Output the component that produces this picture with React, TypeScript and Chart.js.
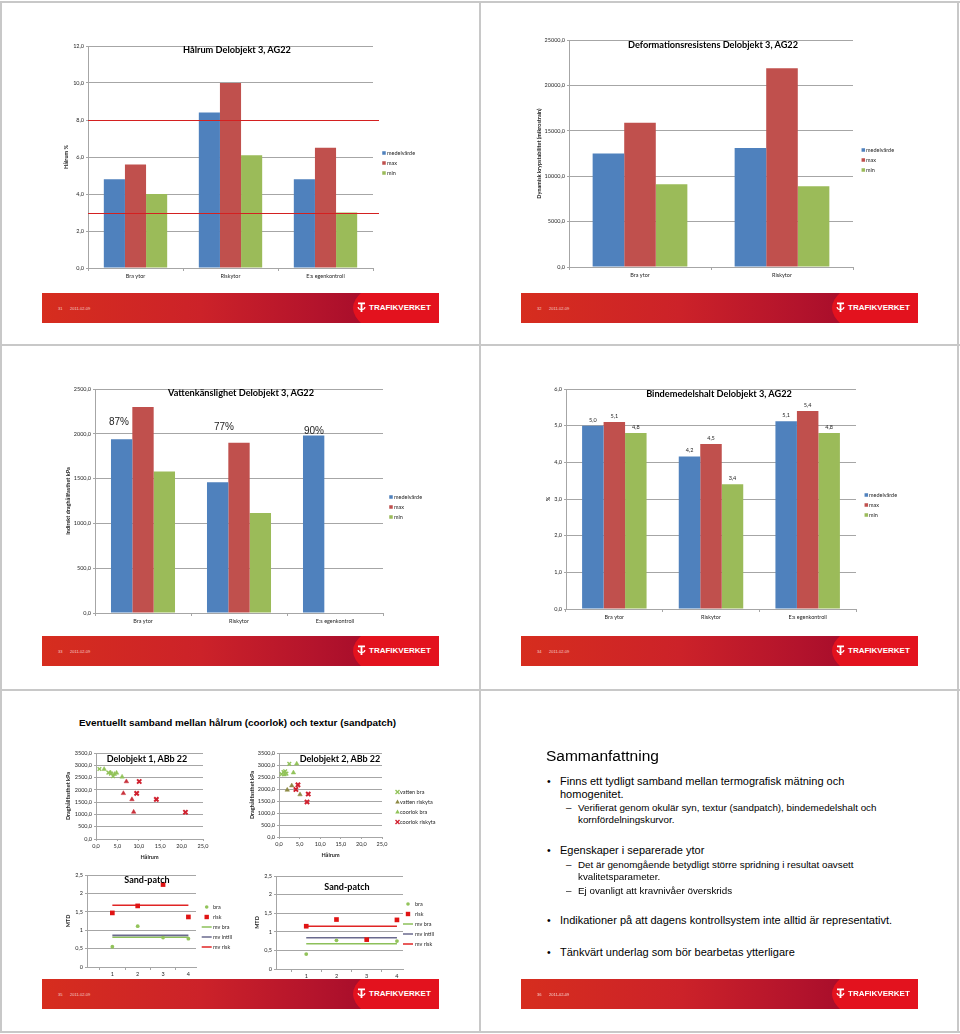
import React, { useEffect, useRef } from 'react';
import { Chart, registerables } from 'chart.js';

Chart.register(...registerables);

const FONT = 'Lato, "Liberation Sans", sans-serif';
const ARIAL = '"Liberation Sans", Arial, sans-serif';
Chart.defaults.font.family = FONT;
Chart.defaults.color = '#262626';

// ---------------- DATA ----------------
const categories3 = ['Bra ytor', 'Riskytor', 'E:s egenkontroll'];
const categories2 = ['Bra ytor', 'Riskytor'];
const seriesLabels = ['medelvärde', 'max', 'min'];

// Hålrum
const halrumMedel = [4.8, 8.4, 4.8];
const halrumMax = [5.6, 10.0, 6.5];
const halrumMin = [4.0, 6.1, 3.0];
const halrumLimits = [8.0, 3.0];

// Deformationsresistens
const deformMedel = [12500, 13100];
const deformMax = [15900, 21900];
const deformMin = [9100, 8900];

// Vattenkänslighet
const vattenMedel = [1940, 1460, 1980];
const vattenMax = [2300, 1900, null];
const vattenMin = [1580, 1115, null];
const vattenPct = ['87%', '77%', '90%'];

// Bindemedelshalt
const bindMedel = [5.0, 4.16, 5.12];
const bindMax = [5.1, 4.5, 5.4];
const bindMin = [4.8, 3.4, 4.8];

// Delobjekt 1 scatter
const d1VattenBra = [{ x: 0.8, y: 2850 }, { x: 2.9, y: 2700 }, { x: 3.5, y: 2660 }, { x: 4.0, y: 2560 }];
const d1VattenRisk = [{ x: 7.1, y: 2340 }, { x: 6.4, y: 1860 }, { x: 8.4, y: 1610 }, { x: 8.8, y: 1100 }];
const d1CoorlokBra = [{ x: 1.9, y: 2840 }, { x: 3.4, y: 2700 }, { x: 4.3, y: 2640 }, { x: 4.8, y: 2690 }, { x: 6.1, y: 2530 }];
const d1CoorlokRisk = [{ x: 10.1, y: 2340 }, { x: 9.5, y: 1860 }, { x: 14.1, y: 1610 }, { x: 20.9, y: 1090 }];

// Delobjekt 2 scatter
const d2VattenBra = [{ x: 2.5, y: 3050 }, { x: 0.6, y: 2620 }, { x: 1.1, y: 2700 }, { x: 1.5, y: 2740 }, { x: 1.8, y: 2640 }];
const d2VattenRisk = [{ x: 2.0, y: 1960 }, { x: 3.1, y: 2140 }, { x: 5.1, y: 1770 }];
const d2CoorlokBra = [{ x: 4.3, y: 3050 }, { x: 3.5, y: 2680 }, { x: 1.3, y: 2600 }];
const d2CoorlokRisk = [{ x: 4.6, y: 2170 }, { x: 4.1, y: 1980 }, { x: 7.1, y: 1790 }, { x: 6.8, y: 1460 }];
const scatterLabels = ['vatten bra', 'vatten riskyta', 'coorlok bra', 'coorlok riskyta'];

// Sand-patch
const spPositions = [1, 2, 3, 4];
const sp1Bra = [0.55, 1.11, 0.80, 0.77];
const sp1Risk = [1.47, 1.66, 2.24, 1.36];
const sp1Means = [0.81, 0.86, 1.68]; // mv bra, mv intill, mv risk
const sp2Bra = [0.40, 0.77, 0.80, 0.75];
const sp2Risk = [1.15, 1.33, 0.79, 1.32];
const sp2Means = [0.68, 0.84, 1.15];
const spLabels = ['bra', 'risk', 'mv bra', 'mv intill', 'mv risk'];

// ---------------- STYLE ----------------
const BLUE = '#4F81BD';
const RED = '#C0504D';
const GREEN = '#9BBB59';
const GRID = '#A6A6A6';
const TXT = '#262626';
const TICK = 5.5;
const PT_GREEN = '#92C35A';
const PT_RED = '#D0202E';
const PT_OLIVE = '#8E8A45';

const fmt1 = (v: any) => Number(v).toFixed(1).replace('.', ',');
const fmtSp = (v: any) => (Number.isInteger(Number(v)) ? String(v) : String(v).replace('.', ','));

type Frame = { x: number; y: number; w: number; h: number };
type Plot = { l: number; t: number; r: number; b: number };

function padFor(f: Frame, p: Plot, yw: number, xh: number) {
  return {
    left: p.l - f.x - yw,
    top: p.t - f.y,
    right: f.x + f.w - p.r,
    bottom: f.y + f.h - p.b - xh,
  };
}

// ---------------- PLUGINS ----------------
function drawMarker(ctx: CanvasRenderingContext2D, ds: any, x: number, y: number) {
  const kind = ds.legendMarker;
  const col = ds.legendColor || ds.backgroundColor || ds.borderColor;
  ctx.save();
  ctx.fillStyle = col;
  ctx.strokeStyle = col;
  if (kind === 'box') {
    ctx.fillRect(x - 1.75, y - 1.75, 3.5, 3.5);
  } else if (kind === 'line') {
    ctx.lineWidth = 1.5;
    ctx.beginPath();
    ctx.moveTo(x - 5, y);
    ctx.lineTo(x + 5, y);
    ctx.stroke();
  } else if (kind === 'circle') {
    ctx.beginPath();
    ctx.arc(x, y, 1.8, 0, Math.PI * 2);
    ctx.fill();
  } else if (kind === 'rect') {
    ctx.fillRect(x - 2.2, y - 2.2, 4.4, 4.4);
  } else if (kind === 'triangle') {
    ctx.beginPath();
    ctx.moveTo(x, y - 2.4);
    ctx.lineTo(x + 2.3, y + 1.6);
    ctx.lineTo(x - 2.3, y + 1.6);
    ctx.closePath();
    ctx.fill();
  } else if (kind === 'crossRot') {
    ctx.lineWidth = 1.4;
    ctx.beginPath();
    ctx.moveTo(x - 2, y - 2);
    ctx.lineTo(x + 2, y + 2);
    ctx.moveTo(x + 2, y - 2);
    ctx.lineTo(x - 2, y + 2);
    ctx.stroke();
  }
  ctx.restore();
}

const excelLegend = {
  id: 'excelLegend',
  afterDraw(chart: any, _a: any, opts: any) {
    if (!opts || !opts.show) return;
    const { ctx, chartArea } = chart;
    ctx.save();
    ctx.font = `${opts.size || 5.5}px ${FONT}`;
    ctx.textBaseline = 'middle';
    ctx.textAlign = 'left';
    chart.data.datasets.forEach((ds: any, i: number) => {
      const y = chartArea.top + opts.y0 + i * opts.step;
      drawMarker(ctx, ds, chartArea.right + opts.cx, y);
      ctx.fillStyle = TXT;
      ctx.fillText(ds.label, chartArea.right + opts.tx, y);
    });
    ctx.restore();
  },
};

const limitLinesPlugin = {
  id: 'limitLines',
  afterDatasetsDraw(chart: any, _a: any, opts: any) {
    if (!opts || !opts.values || !opts.values.length) return;
    const { ctx, chartArea } = chart;
    const ys = chart.scales.y;
    ctx.save();
    ctx.strokeStyle = opts.color || '#D42020';
    ctx.lineWidth = 1.2;
    opts.values.forEach((v: number) => {
      const py = Math.round(ys.getPixelForValue(v)) + 0.5;
      ctx.beginPath();
      ctx.moveTo(chartArea.left, py);
      ctx.lineTo(chartArea.right + (opts.extend || 0), py);
      ctx.stroke();
    });
    ctx.restore();
  },
};

const valueLabelsPlugin = {
  id: 'valueLabels',
  afterDatasetsDraw(chart: any, _a: any, opts: any) {
    if (!opts || !opts.show) return;
    const { ctx } = chart;
    ctx.save();
    ctx.font = `${TICK}px ${FONT}`;
    ctx.fillStyle = TXT;
    ctx.textAlign = 'center';
    ctx.textBaseline = 'bottom';
    chart.data.datasets.forEach((ds: any, i: number) => {
      const meta = chart.getDatasetMeta(i);
      meta.data.forEach((el: any, j: number) => {
        const v = ds.data[j];
        if (v == null) return;
        ctx.fillText(fmt1(v), el.x, el.y - 3);
      });
    });
    ctx.restore();
  },
};

// ---------------- SCALE HELPERS ----------------
function yLinear(o: { min: number; max: number; step: number; title: string; tpad: number; yw: number; fmt: any }) {
  return {
    type: 'linear',
    min: o.min,
    max: o.max,
    ticks: { stepSize: o.step, font: { size: TICK }, color: TXT, padding: 2, callback: o.fmt },
    grid: { color: GRID, lineWidth: 1, drawTicks: true, tickLength: 2 },
    border: { display: true, color: GRID },
    title: {
      display: true,
      text: o.title,
      font: { size: 5.5, weight: 'bold' },
      color: TXT,
      padding: { top: o.tpad, bottom: 0 },
    },
    afterFit: (s: any) => {
      s.width = o.yw;
      s.paddingTop = 0;
      s.paddingBottom = 0;
    },
  };
}

function xCategory(xh: number) {
  return {
    ticks: { font: { size: TICK }, color: TXT, padding: 2, maxRotation: 0, autoSkip: false },
    grid: { display: true, drawOnChartArea: false, drawTicks: true, tickLength: 3, color: GRID },
    border: { display: true, color: GRID },
    afterFit: (s: any) => {
      s.height = xh;
      s.paddingLeft = 0;
      s.paddingRight = 0;
    },
  };
}

function barConfig(p: any) {
  const colors = [BLUE, RED, GREEN];
  return {
    type: 'bar',
    data: {
      labels: p.labels,
      datasets: p.series.map((d: any, i: number) => ({
        label: seriesLabels[i],
        data: d,
        backgroundColor: colors[i],
        borderWidth: 0,
        legendMarker: 'box',
        categoryPercentage: 0.667,
        barPercentage: 1,
      })),
    },
    options: {
      responsive: false,
      animation: false,
      events: [],
      layout: { padding: padFor(p.frame, p.plot, p.yw, p.xh) },
      plugins: {
        legend: { display: false },
        tooltip: { enabled: false },
        excelLegend: { show: true, step: 10, ...p.legend },
        limitLines: { values: p.limits || [], extend: 6, color: '#D42020' },
        valueLabels: { show: !!p.valueLabels },
      },
      scales: {
        x: xCategory(p.xh),
        y: yLinear({ min: 0, max: p.yMax, step: p.yStep, title: p.yTitle, tpad: p.tpad, yw: p.yw, fmt: fmt1 }),
      },
    },
    plugins: [excelLegend, limitLinesPlugin, valueLabelsPlugin],
  };
}

function scatterConfig(p: any) {
  const ds = [
    { label: scatterLabels[0], data: p.vb, pointStyle: 'crossRot', pointRadius: 2.6, borderColor: PT_GREEN, backgroundColor: PT_GREEN, pointBorderWidth: 1.4, legendMarker: 'crossRot' },
    { label: scatterLabels[1], data: p.vr, pointStyle: 'triangle', pointRadius: 2.6, borderColor: p.riskTri, backgroundColor: p.riskTri, pointBorderWidth: 0.5, legendMarker: 'triangle' },
    { label: scatterLabels[2], data: p.cb, pointStyle: 'triangle', pointRadius: 2.6, borderColor: PT_GREEN, backgroundColor: PT_GREEN, pointBorderWidth: 0.5, legendMarker: 'triangle' },
    { label: scatterLabels[3], data: p.cr, pointStyle: 'crossRot', pointRadius: 3, borderColor: PT_RED, backgroundColor: PT_RED, pointBorderWidth: 2, legendMarker: 'crossRot' },
  ];
  return {
    type: 'scatter',
    data: { datasets: ds },
    options: {
      responsive: false,
      animation: false,
      events: [],
      layout: { padding: padFor(p.frame, p.plot, p.yw, p.xh) },
      plugins: {
        legend: { display: false },
        tooltip: { enabled: false },
        excelLegend: p.legend ? { show: true, step: 10, ...p.legend } : { show: false },
      },
      scales: {
        x: {
          type: 'linear',
          min: 0,
          max: 25,
          ticks: { stepSize: 5, font: { size: TICK }, color: TXT, padding: 2, callback: fmt1, maxRotation: 0 },
          grid: { display: true, drawOnChartArea: false, drawTicks: true, tickLength: 2, color: GRID },
          border: { display: true, color: GRID },
          title: { display: true, text: 'Hålrum', font: { size: 5.5, weight: 'bold' }, color: TXT, padding: { top: 0, bottom: 3 } },
          afterFit: (s: any) => {
            s.height = p.xh;
            s.paddingLeft = 0;
            s.paddingRight = 0;
          },
        },
        y: yLinear({ min: 0, max: 3500, step: 500, title: 'Draghållfasthet kPa', tpad: p.tpad, yw: p.yw, fmt: fmt1 }),
      },
    },
    plugins: [excelLegend],
  };
}

function sandConfig(p: any) {
  const pts = (vals: number[]) => vals.map((v, i) => ({ x: spPositions[i], y: v }));
  const meanLine = (v: number) => [
    { x: spPositions[0], y: v },
    { x: spPositions[spPositions.length - 1], y: v },
  ];
  const ds = [
    { label: spLabels[0], data: pts(p.bra), pointStyle: 'circle', pointRadius: 1.9, backgroundColor: PT_GREEN, borderColor: PT_GREEN, pointBorderWidth: 0, legendMarker: 'circle', order: 1 },
    { label: spLabels[1], data: pts(p.risk), pointStyle: 'rect', pointRadius: 3.3, backgroundColor: '#E01414', borderColor: '#E01414', pointBorderWidth: 0, legendMarker: 'rect', order: 0 },
    { label: spLabels[2], data: meanLine(p.means[0]), showLine: true, pointRadius: 0, borderColor: '#8DC05A', borderWidth: 1.6, legendMarker: 'line', order: 4 },
    { label: spLabels[3], data: meanLine(p.means[1]), showLine: true, pointRadius: 0, borderColor: '#6A6A8E', borderWidth: 1.6, legendMarker: 'line', order: 3 },
    { label: spLabels[4], data: meanLine(p.means[2]), showLine: true, pointRadius: 0, borderColor: '#E02424', borderWidth: 1.6, legendMarker: 'line', order: 2 },
  ];
  return {
    type: 'scatter',
    data: { datasets: ds },
    options: {
      responsive: false,
      animation: false,
      events: [],
      layout: { padding: padFor(p.frame, p.plot, p.yw, p.xh) },
      plugins: {
        legend: { display: false },
        tooltip: { enabled: false },
        excelLegend: { show: true, step: 10, ...p.legend },
      },
      scales: {
        x: {
          type: 'linear',
          min: 0,
          max: p.xMax,
          afterBuildTicks: (s: any) => {
            s.ticks = [0.5, 1, 1.5, 2, 2.5, 3, 3.5, 4].map((v) => ({ value: v }));
          },
          ticks: {
            font: { size: TICK },
            color: TXT,
            padding: 1,
            maxRotation: 0,
            autoSkip: false,
            callback: (v: any) => (Number(v) % 1 === 0 ? String(v) : ''),
          },
          grid: {
            display: true,
            drawOnChartArea: false,
            drawTicks: true,
            tickLength: 3,
            color: (c: any) => (c.tick && c.tick.value % 1 !== 0 ? GRID : 'rgba(0,0,0,0)'),
          },
          border: { display: true, color: GRID },
          afterFit: (s: any) => {
            s.height = p.xh;
            s.paddingLeft = 0;
            s.paddingRight = 0;
          },
        },
        y: yLinear({ min: 0, max: 2.5, step: 0.5, title: 'MTD', tpad: p.tpad, yw: p.yw, fmt: fmtSp }),
      },
    },
    plugins: [excelLegend],
  };
}

// ---------------- COMPONENTS ----------------
function ChartBox({ frame, make }: { frame: Frame; make: () => any }) {
  const ref = useRef<HTMLCanvasElement>(null);
  useEffect(() => {
    const chart = new Chart(ref.current as HTMLCanvasElement, make());
    return () => chart.destroy();
  }, []);
  return (
    <canvas
      ref={ref}
      width={frame.w}
      height={frame.h}
      style={{ position: 'absolute', left: frame.x, top: frame.y, width: frame.w, height: frame.h }}
    />
  );
}

function Txt({ x, y, children, size, bold, family, center, color }: any) {
  return (
    <div
      style={{
        position: 'absolute',
        left: x,
        top: y,
        transform: center ? 'translate(-50%, -50%)' : 'translateY(-50%)',
        fontFamily: family || FONT,
        fontSize: size,
        fontWeight: bold ? 700 : 400,
        color: color || '#000',
        whiteSpace: 'nowrap',
        lineHeight: 1,
      }}
    >
      {children}
    </div>
  );
}

function Footer({ x, y, num }: { x: number; y: number; num: string }) {
  return (
    <div
      style={{
        position: 'absolute',
        left: x,
        top: y,
        width: 397,
        height: 30,
        overflow: 'hidden',
        zIndex: 5,
        background: 'linear-gradient(90deg, #D62D1E 0%, #CC2229 40%, #B3132C 70%, #A90E2B 80%)',
      }}
    >
      <div
        style={{
          position: 'absolute',
          left: 311,
          top: -30,
          width: 280,
          height: 90,
          borderRadius: '50%',
          background: '#E3121E',
        }}
      />
      <div style={{ position: 'absolute', left: 16, top: 13, fontFamily: ARIAL, fontSize: 4, color: '#F6CFCB' }}>{num}</div>
      <div style={{ position: 'absolute', left: 28, top: 13, fontFamily: ARIAL, fontSize: 4, color: '#F6CFCB' }}>2011-02-09</div>
      <svg width="9" height="11" viewBox="0 0 9 11" style={{ position: 'absolute', left: 315, top: 9 }}>
        <path
          d="M1 0.5h7v1.8H5.4v4.4c1 0 1.8-0.8 1.9-1.8h1.2c-0.1 1.7-1.5 3-3.1 3V10H3.6V7.9C2 7.9 0.6 6.6 0.5 4.9h1.2C1.8 5.9 2.6 6.7 3.6 6.7V2.3H1z"
          fill="#fff"
        />
      </svg>
      <div
        style={{
          position: 'absolute',
          left: 327,
          top: 15,
          transform: 'translateY(-50%)',
          fontFamily: ARIAL,
          fontWeight: 700,
          fontSize: 8,
          color: '#fff',
          lineHeight: 1,
          whiteSpace: 'nowrap',
        }}
      >
        TRAFIKVERKET
      </div>
    </div>
  );
}

const line = (l: number, t: number, w: number, h: number) => (
  <div style={{ position: 'absolute', left: l, top: t, width: w, height: h, background: '#C8C8C8' }} />
);

// ---------------- FRAMES ----------------
const f1: Frame = { x: 40, y: 28, w: 400, h: 262 };
const p1: Plot = { l: 88, t: 46, r: 373, b: 268 };
const f2: Frame = { x: 520, y: 22, w: 400, h: 268 };
const p2: Plot = { l: 569, t: 40, r: 853, b: 267 };
const f3: Frame = { x: 45, y: 370, w: 400, h: 265 };
const p3: Plot = { l: 95, t: 389, r: 383, b: 613 };
const f4: Frame = { x: 525, y: 370, w: 400, h: 260 };
const p4: Plot = { l: 566, t: 389, r: 856, b: 609 };
const fs1: Frame = { x: 55, y: 738, w: 160, h: 128 };
const ps1: Plot = { l: 96, t: 753, r: 203, b: 839 };
const fs2: Frame = { x: 240, y: 738, w: 230, h: 126 };
const ps2: Plot = { l: 279, t: 753, r: 382, b: 837 };
const fp1: Frame = { x: 55, y: 862, w: 200, h: 120 };
const pp1: Plot = { l: 87, t: 875, r: 196, b: 967 };
const fp2: Frame = { x: 240, y: 862, w: 225, h: 120 };
const pp2: Plot = { l: 276, t: 876, r: 403, b: 969 };

export default function App() {
  return (
    <div
      style={{
        position: 'absolute',
        left: 0,
        top: 0,
        width: 960,
        height: 1034,
        background: '#fff',
        overflow: 'hidden',
      }}
    >
      {/* slide borders */}
      {line(0, 1, 960, 2)}
      {line(0, 1031, 960, 2)}
      {line(0, 1, 2, 1032)}
      {line(957, 1, 2, 1032)}
      {line(479, 1, 2, 1032)}
      {line(0, 344, 960, 2)}
      {line(0, 689, 960, 2)}

      {/* Slide 31 */}
      <ChartBox
        frame={f1}
        make={() =>
          barConfig({
            frame: f1, plot: p1, yw: 28, xh: 20, tpad: 3,
            labels: categories3, series: [halrumMedel, halrumMax, halrumMin],
            yMax: 12, yStep: 2, yTitle: 'Hålrum %',
            legend: { cx: 11, tx: 14, y0: 107 },
            limits: halrumLimits,
          })
        }
      />
      <Txt x={237} y={50} size={9.2} bold center>Hålrum Delobjekt 3, AG22</Txt>

      {/* Slide 32 */}
      <ChartBox
        frame={f2}
        make={() =>
          barConfig({
            frame: f2, plot: p2, yw: 36, xh: 20, tpad: 3,
            labels: categories2, series: [deformMedel, deformMax, deformMin],
            yMax: 25000, yStep: 5000, yTitle: 'Dynamisk krypstabilitet (mikrostrain)',
            legend: { cx: 10.3, tx: 13, y0: 110 },
          })
        }
      />
      <Txt x={713} y={45} size={9.2} bold center>Deformationsresistens Delobjekt 3, AG22</Txt>

      {/* Slide 33 */}
      <ChartBox
        frame={f3}
        make={() =>
          barConfig({
            frame: f3, plot: p3, yw: 35, xh: 20, tpad: 5,
            labels: categories3, series: [vattenMedel, vattenMax, vattenMin],
            yMax: 2500, yStep: 500, yTitle: 'Indirekt draghållfasthet kPa',
            legend: { cx: 8, tx: 11, y0: 108 },
          })
        }
      />
      <Txt x={241} y={393} size={9.2} bold center>Vattenkänslighet Delobjekt 3, AG22</Txt>
      <Txt x={119} y={422} size={10} family={ARIAL} center color="#222">{vattenPct[0]}</Txt>
      <Txt x={224} y={427} size={10} family={ARIAL} center color="#222">{vattenPct[1]}</Txt>
      <Txt x={314} y={431} size={10} family={ARIAL} center color="#222">{vattenPct[2]}</Txt>

      {/* Slide 34 */}
      <ChartBox
        frame={f4}
        make={() =>
          barConfig({
            frame: f4, plot: p4, yw: 26, xh: 20, tpad: 5,
            labels: categories3, series: [bindMedel, bindMax, bindMin],
            yMax: 6, yStep: 1, yTitle: '%',
            legend: { cx: 10.3, tx: 13, y0: 106 },
            valueLabels: true,
          })
        }
      />
      <Txt x={719} y={394} size={9.2} bold center>Bindemedelshalt Delobjekt 3, AG22</Txt>

      {/* Slide 35 */}
      <Txt x={79} y={723} size={9.9} bold family={ARIAL}>
        Eventuellt samband mellan hålrum (coorlok) och textur (sandpatch)
      </Txt>
      <ChartBox
        frame={fs1}
        make={() =>
          scatterConfig({
            frame: fs1, plot: ps1, yw: 32, xh: 25, tpad: 1,
            vb: d1VattenBra, vr: d1VattenRisk, cb: d1CoorlokBra, cr: d1CoorlokRisk,
            riskTri: '#C8303A',
          })
        }
      />
      <ChartBox
        frame={fs2}
        make={() =>
          scatterConfig({
            frame: fs2, plot: ps2, yw: 31, xh: 25, tpad: 1,
            vb: d2VattenBra, vr: d2VattenRisk, cb: d2CoorlokBra, cr: d2CoorlokRisk,
            riskTri: PT_OLIVE,
            legend: { cx: 15.5, tx: 18, y0: 39 },
          })
        }
      />
      <Txt x={147} y={758} size={9} bold center>Delobjekt 1, ABb 22</Txt>
      <Txt x={340} y={758} size={9} bold center>Delobjekt 2, ABb 22</Txt>
      <ChartBox
        frame={fp1}
        make={() =>
          sandConfig({
            frame: fp1, plot: pp1, yw: 23, xh: 12, tpad: 1, xMax: 4.3,
            bra: sp1Bra, risk: sp1Risk, means: sp1Means,
            legend: { cx: 10.7, tx: 17, y0: 32 },
          })
        }
      />
      <ChartBox
        frame={fp2}
        make={() =>
          sandConfig({
            frame: fp2, plot: pp2, yw: 23, xh: 12, tpad: 1, xMax: 4.2,
            bra: sp2Bra, risk: sp2Risk, means: sp2Means,
            legend: { cx: 5, tx: 12, y0: 28 },
          })
        }
      />
      <Txt x={147} y={879} size={9} bold center>Sand-patch</Txt>
      <Txt x={347} y={886} size={9} bold center>Sand-patch</Txt>

      {/* Slide 36 */}
      <Txt x={546} y={756} size={15.5} family={ARIAL}>Sammanfattning</Txt>
      <Txt x={547} y={781} size={10.5} family={ARIAL}>•</Txt>
      <Txt x={560} y={781} size={11} family={ARIAL}>Finns ett tydligt samband mellan termografisk mätning och</Txt>
      <Txt x={560} y={794} size={11} family={ARIAL}>homogenitet.</Txt>
      <Txt x={566} y={808} size={9.8} family={ARIAL}>–</Txt>
      <Txt x={578} y={808} size={9.8} family={ARIAL}>Verifierat genom okulär syn, textur (sandpatch), bindemedelshalt och</Txt>
      <Txt x={578} y={820} size={9.8} family={ARIAL}>kornfördelningskurvor.</Txt>
      <Txt x={547} y={850} size={10.5} family={ARIAL}>•</Txt>
      <Txt x={560} y={850} size={11} family={ARIAL}>Egenskaper i separerade ytor</Txt>
      <Txt x={566} y={865} size={9.8} family={ARIAL}>–</Txt>
      <Txt x={578} y={865} size={9.8} family={ARIAL}>Det är genomgående betydligt större spridning i resultat oavsett</Txt>
      <Txt x={578} y={877} size={9.8} family={ARIAL}>kvalitetsparameter.</Txt>
      <Txt x={566} y={891} size={9.8} family={ARIAL}>–</Txt>
      <Txt x={578} y={891} size={9.8} family={ARIAL}>Ej ovanligt att kravnivåer överskrids</Txt>
      <Txt x={547} y={920} size={10.5} family={ARIAL}>•</Txt>
      <Txt x={560} y={920} size={11} family={ARIAL}>Indikationer på att dagens kontrollsystem inte alltid är representativt.</Txt>
      <Txt x={547} y={952} size={10.5} family={ARIAL}>•</Txt>
      <Txt x={560} y={952} size={11} family={ARIAL}>Tänkvärt underlag som bör bearbetas ytterligare</Txt>

      {/* footers */}
      <Footer x={42} y={293} num="31" />
      <Footer x={521} y={293} num="32" />
      <Footer x={42} y={636} num="33" />
      <Footer x={521} y={636} num="34" />
      <Footer x={42} y={979} num="35" />
      <Footer x={521} y={979} num="36" />
    </div>
  );
}
